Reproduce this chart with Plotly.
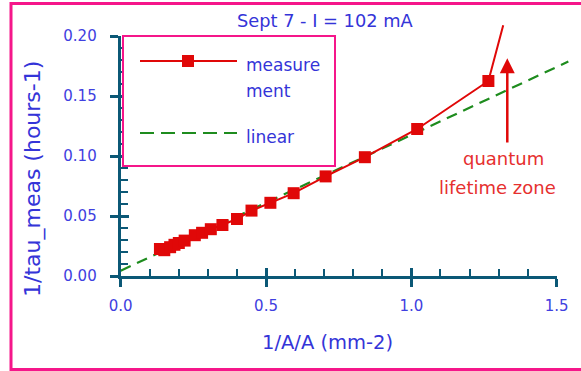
import plotly.graph_objects as go

W, H = 581, 371

# ---------------- data ----------------
inv_area = [0.135, 0.150, 0.170, 0.185, 0.200, 0.220, 0.255, 0.280, 0.310,
            0.350, 0.400, 0.450, 0.515, 0.595, 0.705, 0.840, 1.020, 1.265]
inv_tau = [0.0225, 0.0215, 0.0240, 0.0260, 0.0275, 0.0295, 0.0340, 0.0360, 0.0390,
           0.0425, 0.0475, 0.0545, 0.0610, 0.0690, 0.0830, 0.0990, 0.1225, 0.1625]
linear_x = [0.0, 1.54]
linear_y = [0.0044, 0.1787]
# hand-drawn continuation beyond last point, and arrow to "quantum lifetime zone"
cont_end = (1.316, 0.209)
arrow_x = 1.33
arrow_y = (0.110, 0.1814)

title = "Sept 7 - I = 102 mA"
x_title = "1/A/A (mm-2)"
y_title = "1/tau_meas (hours-1)"
legend_labels = [["measure", "ment"], ["linear"]]
zone_text = ["quantum", "lifetime zone"]

# ---------------- style ----------------
FONT = "DejaVu Sans"
BLUE = "#3434d8"
TICK_BLUE = "#4040e0"
RED = "#e00808"
RED_TXT = "#e6302f"
GREEN = "#1e8c1e"
PINK = "#f5168a"
AX = "#0b5876"

def px(x):
    return x / W

def py(y):
    return 1 - y / H

X0, X1 = 120.7, 556.7
Y0, Y1 = 36.0, 276.0
XR = [0, 1.5]
YR = [0, 0.2]
sx = (X1 - X0) / (XR[1] - XR[0])
sy = (Y1 - Y0) / (YR[1] - YR[0])
EX1, EY0 = 578.0, 10.0
ext_xr = [0, (EX1 - X0) / sx]
ext_yr = [0, (Y1 - EY0) / sy]

fig = go.Figure()
# empty traces to create the axis subplots
fig.add_trace(go.Scatter(x=[], y=[], xaxis="x", yaxis="y", showlegend=False))
fig.add_trace(go.Scatter(x=[], y=[], xaxis="x2", yaxis="y2", showlegend=False))

fig.add_trace(go.Scatter(x=linear_x, y=linear_y, mode="lines",
                         line=dict(color=GREEN, width=2.2, dash="11px,7px"),
                         xaxis="x3", yaxis="y3", showlegend=False))
fig.add_trace(go.Scatter(x=inv_area, y=inv_tau, mode="lines+markers",
                         line=dict(color=RED, width=2),
                         marker=dict(symbol="square", size=12, color=RED),
                         xaxis="x3", yaxis="y3", showlegend=False, cliponaxis=False))

tickfont = dict(family=FONT, size=15, color=TICK_BLUE)
common = dict(showgrid=False, zeroline=False, fixedrange=True, automargin=False)

fig.update_layout(
    width=W, height=H,
    margin=dict(l=0, r=0, t=0, b=0, pad=0, autoexpand=False),
    paper_bgcolor="white", plot_bgcolor="rgba(0,0,0,0)",
    showlegend=False,
    xaxis=dict(domain=[px(X0), px(X1)], range=XR, anchor="y",
               showline=True, linecolor=AX, linewidth=3,
               ticks="outside", ticklen=8, tickwidth=3, tickcolor=AX,
               tick0=0, dtick=0.5, tickformat=".1f", tickfont=tickfont,
               ticklabelstandoff=6, **common),
    yaxis=dict(domain=[py(Y1), py(Y0)], range=YR, anchor="x",
               showline=True, linecolor=AX, linewidth=3,
               ticks="outside", ticklen=8, tickwidth=3, tickcolor=AX,
               tick0=0, dtick=0.05, tickformat=".2f", tickfont=tickfont,
               ticklabelstandoff=10, **common),
    xaxis2=dict(overlaying="x", anchor="y", range=XR, side="bottom",
                ticks="inside", ticklen=8, tickwidth=3, tickcolor=AX,
                tick0=0, dtick=0.5, showticklabels=False, showline=False,
                minor=dict(ticks="inside", ticklen=7, tickwidth=2, tickcolor=AX,
                           tick0=0, dtick=0.1),
                **common),
    yaxis2=dict(overlaying="y", anchor="x", range=YR, side="left",
                ticks="inside", ticklen=8, tickwidth=3, tickcolor=AX,
                tick0=0, dtick=0.05, showticklabels=False, showline=False,
                minor=dict(ticks="inside", ticklen=7, tickwidth=2, tickcolor=AX,
                           tick0=0, dtick=0.01),
                **common),
    xaxis3=dict(domain=[px(X0), px(EX1)], range=ext_xr, anchor="y3", visible=False, **common),
    yaxis3=dict(domain=[py(Y1), py(EY0)], range=ext_yr, anchor="x3", visible=False, **common),
)

shapes = [
    # outer frame
    dict(type="rect", xref="paper", yref="paper", x0=px(11), x1=px(600),
         y0=py(369.5), y1=py(3.5), line=dict(color=PINK, width=3)),
    # legend box
    dict(type="rect", xref="paper", yref="paper", x0=px(123), x1=px(335),
         y0=py(166), y1=py(36), line=dict(color=PINK, width=2),
         fillcolor="white", layer="above"),
]
fig.update_layout(shapes=shapes)


def label(text, x, y, size, color, **kw):
    d = dict(text=text, x=px(x), y=py(y), xref="paper", yref="paper",
             xanchor="center", yanchor="middle", showarrow=False,
             font=dict(family=FONT, size=size, color=color))
    d.update(kw)
    return d


ann = [
    label(title, 325, 21, 17.8, BLUE),
    label(y_title, 33, 179, 22, BLUE, textangle=-90),
    label(x_title, 327, 342, 19.5, BLUE),
    label(zone_text[0], 503, 158, 18, RED_TXT),
    label(zone_text[1], 497, 187, 18, RED_TXT),
    label(legend_labels[0][0], 244, 65, 17, BLUE, xanchor="left"),
    label(legend_labels[0][1], 244, 91, 17, BLUE, xanchor="left"),
    label(legend_labels[1][0], 244, 137, 17, BLUE, xanchor="left"),
]
# continuation line from last point
ann.append(dict(text="", x=cont_end[0], y=cont_end[1], xref="x3", yref="y3",
                ax=inv_area[-1], ay=inv_tau[-1], axref="x3", ayref="y3",
                showarrow=True, arrowhead=0, arrowwidth=2, arrowcolor=RED))
# arrow
ann.append(dict(text="", x=arrow_x, y=arrow_y[1], xref="x3", yref="y3",
                ax=arrow_x, ay=arrow_y[0], axref="x3", ayref="y3",
                showarrow=True, arrowhead=2, arrowwidth=2.5, arrowsize=1.2,
                arrowcolor=RED))
fig.update_layout(annotations=ann)

# legend contents drawn on top of the legend box
leg_shapes = [
    dict(type="line", xref="paper", yref="paper", x0=px(140), x1=px(237),
         y0=py(61), y1=py(61), line=dict(color=RED, width=2), layer="above"),
    dict(type="rect", xref="paper", yref="paper", x0=px(182), x1=px(194),
         y0=py(67), y1=py(55), line=dict(width=0), fillcolor=RED, layer="above"),
    dict(type="line", xref="paper", yref="paper", x0=px(140), x1=px(237),
         y0=py(133), y1=py(133), line=dict(color=GREEN, width=2.2, dash="14px,7px"),
         layer="above"),
]
for s in leg_shapes:
    fig.add_shape(**s)

fig.write_html("out.html")
